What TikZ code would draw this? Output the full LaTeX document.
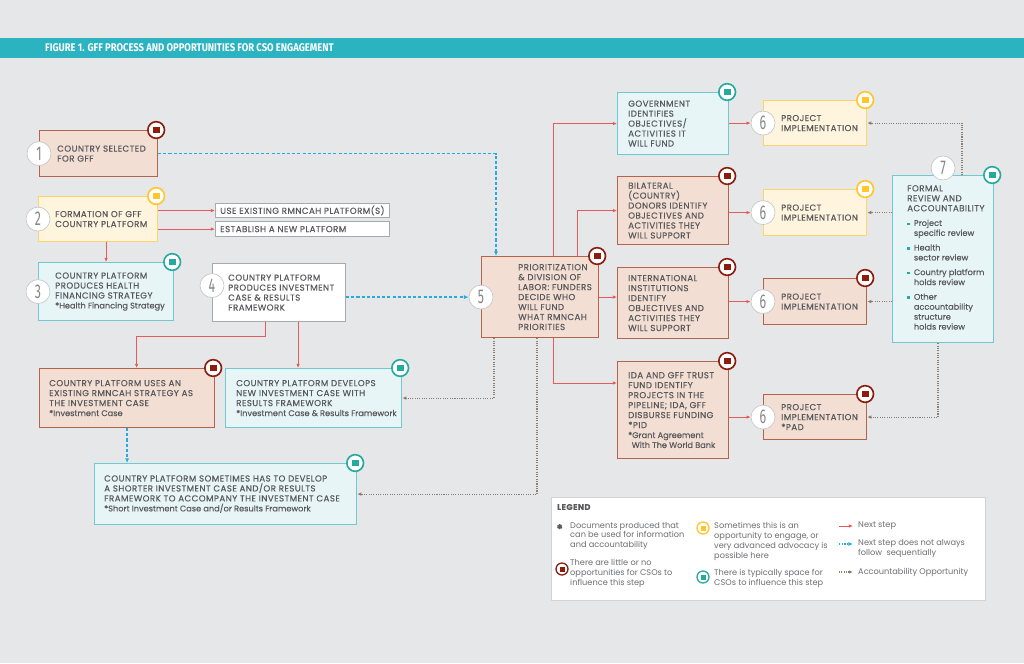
\documentclass[tikz,border=0pt]{standalone}
\usepackage{xcolor}
\usepackage{fontspec}
\setmainfont{Poppins}
\newfontfamily\capfont{Poppins}[LetterSpace=5, FakeBold=0.3]
\newfontfamily\mixfont{Poppins}[FakeBold=0.3]
\newfontfamily\titlefont[FakeStretch=0.85]{Fira Sans}
\newfontfamily\numfont[FakeStretch=0.62]{Fira Sans}
\usetikzlibrary{positioning,arrows.meta}

\definecolor{bgray}{HTML}{E6E7E8}
\definecolor{titlebar}{HTML}{2CB3C1}
\definecolor{txtgray}{HTML}{58595B}
\definecolor{lgdgray}{HTML}{6D6E71}
\definecolor{pinkfill}{HTML}{F3DED4}
\definecolor{pinkdraw}{HTML}{B4634C}
\definecolor{yelfill}{HTML}{FFF4DE}
\definecolor{yeldraw}{HTML}{FDD46A}
\definecolor{cyanfill}{HTML}{E8F5F6}
\definecolor{cyandraw}{HTML}{72C8D0}
\definecolor{boxgray}{HTML}{A7A9AC}
\definecolor{leggray}{HTML}{D1D3D4}
\definecolor{dkred}{HTML}{8B1D0F}
\definecolor{gold}{HTML}{FFC72C}
\definecolor{tealbd}{HTML}{26A9A0}
\definecolor{nxtred}{HTML}{E65A5C}
\definecolor{dashblue}{HTML}{27AAE1}
\definecolor{accbrown}{HTML}{8C7D73}
\definecolor{numgray}{HTML}{85878A}
\definecolor{ringgray}{HTML}{C7C8CA}

% mixed case lines and bullets
\newcommand{\mixtxt}[1]{{\mixfont\fontsize{7}{8.5}\selectfont #1}}
\newcommand{\rvbul}{\textcolor{tealbd}{\rule[0.6pt]{2.2pt}{2.2pt}}\hspace{3.5pt}}

\begin{document}
\begin{tikzpicture}[
    x=0.03cm, y=-0.03cm,
    box/.style={draw, rectangle, line width=1pt, inner sep=0pt, anchor=north west},
    pinkbox/.style={box, draw=pinkdraw, fill=pinkfill},
    yelbox/.style={box, draw=yeldraw, fill=yelfill},
    cyanbox/.style={box, draw=cyandraw, fill=cyanfill},
    whitebox/.style={box, draw=boxgray, fill=white},
    txt/.style={inner sep=0pt, align=left, text=txtgray, font=\capfont\fontsize{7.4}{8.5}\selectfont},
    lgd/.style={inner sep=0pt, align=left, anchor=west, text=lgdgray, font=\rmfamily\fontsize{7}{8.5}\selectfont},
    num/.style={circle, draw=ringgray, fill=white, line width=0.6pt, minimum size=0.72cm,
        inner sep=0pt, text=numgray, font=\numfont\fontsize{17}{17}\selectfont},
    badge/.style={circle, fill=white, line width=1.4pt, minimum size=0.5cm, inner sep=0pt, xshift=-0.06cm},
    bred/.style={badge, draw=dkred, node contents={\textcolor{dkred}{\rule{0.2cm}{0.2cm}}}},
    byel/.style={badge, draw=gold, node contents={\textcolor{gold}{\rule{0.2cm}{0.2cm}}}},
    bteal/.style={badge, draw=tealbd, node contents={\textcolor{tealbd}{\rule{0.2cm}{0.2cm}}}},
    nxt/.style={draw=nxtred, line width=0.8pt, -{Latex[length=3.5pt,width=3pt]}},
    nxtdash/.style={draw=dashblue, line width=1.3pt, dash pattern=on 2.6pt off 1.8pt, -{Latex[length=4pt,width=3.5pt]}},
    acc/.style={draw=accbrown, line width=0.9pt, dash pattern=on 0.9pt off 1.1pt, -{Latex[length=3.5pt,width=3pt]}}]

    % BACKGROUND
    \useasboundingbox (0,0) rectangle (1024,663);
    \fill[bgray] (0,0) rectangle (1024,663);
    \fill[titlebar] (0,38) rectangle (1024,58);
    \node[anchor=west, inner sep=0pt, text=white, font=\titlefont\bfseries\fontsize{9.5}{10}\selectfont] (title) at (45,48)
        {FIGURE 1. GFF PROCESS AND OPPORTUNITIES FOR CSO ENGAGEMENT};

    % NODES
    % step 1
    \node[pinkbox, minimum width=3.54cm, minimum height=1.38cm] (sel) at (39,130) {};
    \node[num] (c1) at (sel.west) {1};
    \node[txt, right=0.54cm of sel.west] (selt) {COUNTRY SELECTED\\FOR GFF};
    \node[bred, name=selb, at={(sel.north east)}];
    % step 2
    \node[yelbox, minimum width=3.57cm, minimum height=1.35cm] (form) at (38,196) {};
    \node[num] (c2) at (form.west) {2};
    \node[txt, right=0.51cm of form.west] (formt) {FORMATION OF GFF\\COUNTRY PLATFORM};
    \node[byel, name=formb, at={(form.north east)}];
    % platform options
    \node[whitebox, minimum width=5.22cm, minimum height=0.42cm] (useex) at (215,203) {};
    \node[txt, right=0.15cm of useex.west] (useext) {USE EXISTING RMNCAH PLATFORM(S)};
    \node[whitebox, minimum width=5.22cm, minimum height=0.45cm] (estab) at (215,221) {};
    \node[txt, right=0.15cm of estab.west] (estabt) {ESTABLISH A NEW PLATFORM};
    % step 3
    \node[cyanbox, minimum width=4.05cm, minimum height=1.74cm] (hfs) at (38,262) {};
    \node[num] (c3) at (hfs.west) {3};
    \node[txt, right=0.51cm of hfs.west] (hfst) {COUNTRY PLATFORM\\PRODUCES HEALTH\\FINANCING STRATEGY\\\mixtxt{*Health Financing Strategy}};
    \node[bteal, name=hfsb, at={(hfs.north east)}];
    % step 4
    \node[whitebox, minimum width=3.99cm, minimum height=1.74cm] (ic) at (212,263) {};
    \node[num] (c4) at ([yshift=0.21cm]ic.west) {4};
    \node[txt, right=0.48cm of ic.west] (ict) {COUNTRY PLATFORM\\PRODUCES INVESTMENT\\CASE \& RESULTS\\FRAMEWORK};
    % investment case variants
    \node[pinkbox, minimum width=5.25cm, minimum height=1.77cm] (icx) at (39,368) {};
    \node[txt, right=0.3cm of icx.west] (icxt) {COUNTRY PLATFORM USES AN\\EXISTING RMNCAH STRATEGY AS\\THE INVESTMENT CASE\\\mixtxt{*Investment Case}};
    \node[bred, name=icxb, at={(icx.north east)}];
    \node[cyanbox, minimum width=5.28cm, minimum height=1.77cm] (icn) at (225,368) {};
    \node[txt, right=0.33cm of icn.west] (icnt) {COUNTRY PLATFORM DEVELOPS\\NEW INVESTMENT CASE WITH\\RESULTS FRAMEWORK\\\mixtxt{*Investment Case \& Results Framework}};
    \node[bteal, name=icnb, at={(icn.north east)}];
    \node[cyanbox, minimum width=7.86cm, minimum height=1.83cm] (ics) at (94,463) {};
    \node[txt, right=0.3cm of ics.west] (icst) {COUNTRY PLATFORM SOMETIMES HAS TO DEVELOP\\A SHORTER INVESTMENT CASE AND/OR RESULTS\\FRAMEWORK TO ACCOMPANY THE INVESTMENT CASE\\\mixtxt{*Short Investment Case and/or Results Framework}};
    \node[bteal, name=icsb, at={(ics.north east)}];
    % step 5
    \node[pinkbox, minimum width=3.51cm, minimum height=2.43cm] (prio) at (481,256) {};
    \node[num] (c5) at (prio.west) {5};
    \node[txt, right=1.11cm of prio.west] (priot) {PRIORITIZATION\\\& DIVISION OF\\LABOR: FUNDERS\\DECIDE WHO\\WILL FUND\\WHAT RMNCAH\\PRIORITIES};
    \node[bred, name=priob, at={(prio.north east)}];
    % funders
    \node[cyanbox, minimum width=3.33cm, minimum height=1.86cm] (gov) at (617,92) {};
    \node[txt, right=0.33cm of gov.west] (govt) {GOVERNMENT\\IDENTIFIES\\OBJECTIVES/\\ACTIVITIES IT\\WILL FUND};
    \node[bteal, name=govb, at={(gov.north east)}];
    \node[pinkbox, minimum width=3.33cm, minimum height=2.04cm] (bil) at (617,176) {};
    \node[txt, right=0.33cm of bil.west] (bilt) {BILATERAL\\(COUNTRY)\\DONORS IDENTIFY\\OBJECTIVES AND\\ACTIVITIES THEY\\WILL SUPPORT};
    \node[bred, name=bilb, at={(bil.north east)}];
    \node[pinkbox, minimum width=3.33cm, minimum height=2.13cm] (intl) at (617,267) {};
    \node[txt, right=0.33cm of intl.west] (intlt) {INTERNATIONAL\\INSTITUTIONS\\IDENTIFY\\OBJECTIVES AND\\ACTIVITIES THEY\\WILL SUPPORT};
    \node[bred, name=intlb, at={(intl.north east)}];
    \node[pinkbox, minimum width=3.33cm, minimum height=2.91cm] (ida) at (617,361) {};
    \node[txt, right=0.33cm of ida.west] (idat) {IDA AND GFF TRUST\\FUND IDENTIFY\\PROJECTS IN THE\\PIPELINE; IDA, GFF\\DISBURSE FUNDING\\*PID\\\mixtxt{*Grant Agreement}\\\mixtxt{\hspace*{3pt}With The World Bank}};
    \node[bred, name=idab, at={(ida.north east)}];
    % step 6
    \node[yelbox, minimum width=3.09cm, minimum height=1.35cm] (impa) at (763,100) {};
    \node[num] (c6a) at (impa.west) {6};
    \node[txt, right=0.54cm of impa.west] (impat) {PROJECT\\IMPLEMENTATION};
    \node[byel, name=impab, at={(impa.north east)}];
    \node[yelbox, minimum width=3.09cm, minimum height=1.38cm] (impb) at (763,189) {};
    \node[num] (c6b) at (impb.west) {6};
    \node[txt, right=0.54cm of impb.west] (impbt) {PROJECT\\IMPLEMENTATION};
    \node[byel, name=impbb, at={(impb.north east)}];
    \node[pinkbox, minimum width=3.09cm, minimum height=1.38cm] (impc) at (763,278) {};
    \node[num] (c6c) at (impc.west) {6};
    \node[txt, right=0.54cm of impc.west] (impct) {PROJECT\\IMPLEMENTATION};
    \node[bred, name=impcb, at={(impc.north east)}];
    \node[pinkbox, minimum width=3.09cm, minimum height=1.35cm] (impd) at (763,394) {};
    \node[num] (c6d) at (impd.west) {6};
    \node[txt, right=0.54cm of impd.west] (impdt) {PROJECT\\IMPLEMENTATION\\*PAD};
    \node[bred, name=impdb, at={(impd.north east)}];
    % step 7
    \node[cyanbox, minimum width=3.03cm, minimum height=5.01cm] (rev) at (892,175) {};
    \node[num] (c7) at ([yshift=0.21cm]rev.north) {7};
    \node[txt, below right=0.3cm and 0.45cm of rev.north west] (revt)
        {FORMAL\\REVIEW AND\\ACCOUNTABILITY\\[4pt]
         \mixtxt{\rvbul Project}\\\mixtxt{\hspace*{5.7pt}specific review}\\[4pt]
         \mixtxt{\rvbul Health}\\\mixtxt{\hspace*{5.7pt}sector review}\\[4pt]
         \mixtxt{\rvbul Country platform}\\\mixtxt{\hspace*{5.7pt}holds review}\\[4pt]
         \mixtxt{\rvbul Other}\\\mixtxt{\hspace*{5.7pt}accountability}\\\mixtxt{\hspace*{5.7pt}structure}\\\mixtxt{\hspace*{5.7pt}holds review}};
    \node[bteal, name=revb, at={(rev.north east)}];

    % LEGEND
    \node[whitebox, draw=leggray, line width=1.2pt, minimum width=13.02cm, minimum height=3.09cm] (leg) at (551,497) {};
    \node[txt, anchor=west, font=\capfont\bfseries\fontsize{7}{8.5}\selectfont] (legt) at (557,507) {LEGEND};
    \node[txt, anchor=west, font=\mixfont\bfseries\fontsize{11}{11}\selectfont] (lstar) at (556,529) {*};
    \node[lgd] (ldoc) at (570,536) {Documents produced that\\can be used for information\\and accountability};
    \node[bred, minimum size=0.36cm, line width=1.1pt, node contents={\textcolor{dkred}{\rule{0.15cm}{0.15cm}}}, name=lred, at={(564,569)}];
    \node[lgd] (llow) at (570,573) {There are little or no\\opportunities for CSOs to\\influence this step};
    \node[byel, minimum size=0.36cm, line width=1.1pt, node contents={\textcolor{gold}{\rule{0.15cm}{0.15cm}}}, name=lyel, at={(705,528)}];
    \node[lgd] (lsome) at (714,541) {Sometimes this is an\\opportunity to engage, or\\very advanced advocacy is\\possible here};
    \node[bteal, minimum size=0.36cm, line width=1.1pt, node contents={\textcolor{tealbd}{\rule{0.15cm}{0.15cm}}}, name=lteal, at={(705,577)}];
    \node[lgd] (lspace) at (714,578) {There is typically space for\\CSOs to influence this step};
    \coordinate (la) at (839,526);
    \coordinate (lb) at (853,526);
    \coordinate (lc) at (839,544);
    \coordinate (ld) at (853,544);
    \coordinate (le) at (839,572);
    \coordinate (lf) at (853,572);
    \node[lgd] (lnext) at (858,526) {Next step};
    \node[lgd] (lseq) at (858,549) {Next step does not always\\follow\ \ sequentially};
    \node[lgd] (lacc) at (858,572) {Accountability Opportunity};

    % ARROWS
    \draw[nxtdash] (sel.east) -| ([xshift=0.45cm]prio.north west);
    \draw[nxt] (form.east |- useex.west) -- (useex.west);
    \draw[nxt] (form.east |- estab.west) -- (estab.west);
    \draw[nxt] (form.south -| hfs.north) -- (hfs.north);
    \draw[nxtdash] (ic.east |- c5.west) -- (c5.west);
    \draw[nxt] ([xshift=-0.405cm]ic.south) -- ++(0,14) -| ([xshift=0.285cm]icx.north);
    \draw[nxt] ([xshift=0.57cm]ic.south) -- ([xshift=0.57cm]ic.south |- icn.north);
    \draw[nxtdash] (icx.south) -- (icx.south |- ics.north);
    \draw[acc] ([xshift=0.39cm]prio.south west) |- (icn.east);
    \draw[acc] ([xshift=1.68cm]prio.south west) |- (ics.east);
    \draw[nxt] ([xshift=2.16cm]prio.north west) |- (gov.west);
    \draw[nxt] ([xshift=2.88cm]prio.north west) |- (bil.west);
    \draw[nxt] (prio.east) -- (prio.east -| intl.west);
    \draw[nxt] ([xshift=2.16cm]prio.south west) |- ([yshift=-0.66cm]ida.north west);
    \draw[nxt] (gov.east |- c6a.west) -- (c6a.west);
    \draw[nxt] (bil.east |- c6b.west) -- (c6b.west);
    \draw[nxt] (intl.east |- c6c.west) -- (c6c.west);
    \draw[nxt] (ida.east |- c6d.west) -- (c6d.west);
    \draw[acc] ([xshift=2.1cm]rev.north west) |- (impa.east);
    \draw[acc] (rev.west |- impb.east) -- (impb.east);
    \draw[acc] (rev.west |- impc.east) -- (impc.east);
    \draw[acc] ([xshift=1.38cm]rev.south west) |- (impd.east);
    % legend arrows
    \draw[nxt] (la) -- (lb);
    \draw[nxtdash, line width=1pt, dash pattern=on 1.2pt off 1pt] (lc) -- (ld);
    \draw[acc] (le) -- (lf);
\end{tikzpicture}
\end{document}
